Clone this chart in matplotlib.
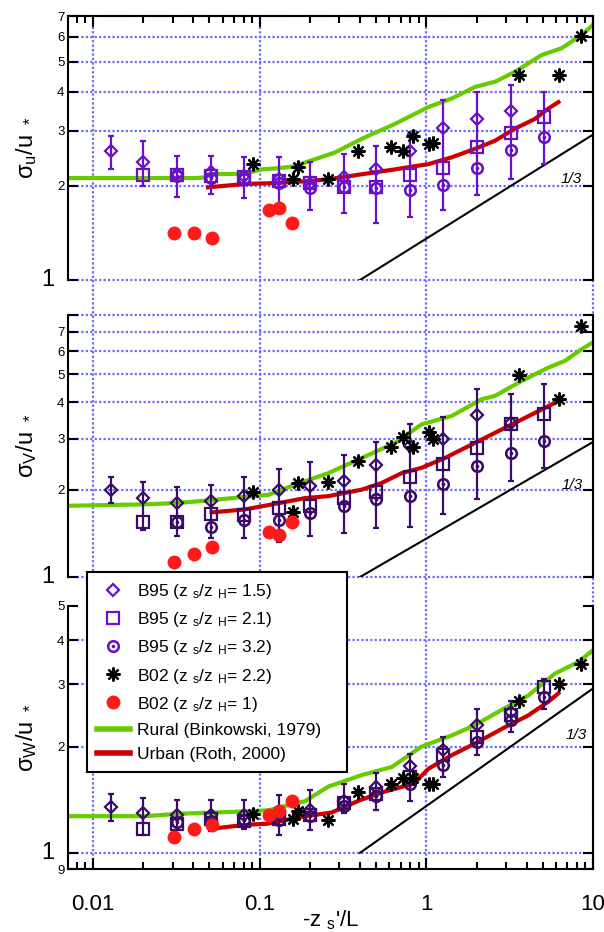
import numpy as np
import matplotlib.pyplot as plt
from matplotlib.lines import Line2D
from matplotlib.ticker import NullFormatter, NullLocator

plt.rcParams['font.family'] = ['Liberation Sans', 'DejaVu Sans']
plt.rcParams['mathtext.default'] = 'regular'

# x bins of the B95 points (same in the three panels)
b95_x = [0.0128, 0.020, 0.032, 0.051, 0.080, 0.13, 0.20, 0.32, 0.50, 0.80, 1.26, 2.0, 3.2, 5.1]
dia_x = b95_x[:13]
sq_x = b95_x[1:]
circ_x = b95_x[2:]

# B02 x positions
star_x = [0.0916, 0.159, 0.171, 0.258, 0.391, 0.614, 0.728, 0.836, 1.04, 1.10, 3.60, 6.25, 8.45]
dot_x = [0.0306, 0.0404, 0.0515, 0.114, 0.131, 0.156]

# slope 1/3 reference line
slope_x = [0.4, 10]
slope_y = [1.0, 2.92]

# ---- sigma_u / u*
u_dia = [2.58, 2.39, 2.18, 2.22, 2.15, 2.10, 2.03, 2.13, 2.26, 2.59, 3.06, 3.28, 3.47]
u_sq = [2.17, 2.17, 2.16, 2.14, 2.07, 2.04, 1.98, 1.98, 2.17, 2.29, 2.66, 2.96, 3.32]
u_circ = [2.16, 2.12, 2.10, 2.04, 1.97, 1.98, 1.97, 1.94, 2.01, 2.29, 2.61, 2.86]
u_err_lo = [2.26, 2.00, 1.84, 1.88, 1.83, 1.75, 1.68, 1.64, 1.52, 1.59, 1.68, 1.87, 2.10, 2.35]
u_err_hi = [2.90, 2.79, 2.50, 2.50, 2.47, 2.47, 2.38, 2.54, 2.69, 2.94, 3.76, 4.00, 4.20, 4.00]
u_star = [2.35, 2.10, 2.30, 2.11, 2.59, 2.67, 2.58, 2.90, 2.72, 2.74, 4.53, 4.53, 6.05]
u_dot = [1.415, 1.415, 1.36, 1.67, 1.70, 1.52]
u_rural_x = [0.0071, 0.0205, 0.041, 0.047, 0.050, 0.082, 0.103, 0.129, 0.16, 0.283, 0.409,
             0.648, 1.03, 1.42, 1.96, 2.58, 3.40, 4.92, 6.48, 8.55, 10]
u_rural_y = [2.12, 2.12, 2.12, 2.13, 2.18, 2.19, 2.26, 2.28, 2.31, 2.56, 2.83,
             3.16, 3.58, 3.81, 4.15, 4.31, 4.64, 5.25, 5.52, 6.09, 6.56]
u_urban_x = [0.049, 0.082, 0.113, 0.187, 0.258, 0.409, 0.648, 1.03, 1.42, 1.96, 2.58, 3.40, 4.49, 5.40, 6.2]
u_urban_y = [1.98, 2.03, 2.04, 2.07, 2.10, 2.18, 2.26, 2.35, 2.47, 2.63, 2.79, 3.05, 3.28, 3.54, 3.71]

# ---- sigma_v / u*
v_dia = [1.99, 1.87, 1.80, 1.83, 1.90, 1.99, 2.06, 2.15, 2.44, 2.82, 2.98, 3.61, 3.40]
v_sq = [1.55, 1.55, 1.65, 1.64, 1.73, 1.75, 1.87, 1.97, 2.22, 2.46, 2.79, 3.36, 3.66]
v_circ = [1.55, 1.49, 1.57, 1.57, 1.66, 1.75, 1.86, 1.90, 2.10, 2.41, 2.67, 2.94]
v_err_lo = [1.80, 1.45, 1.38, 1.36, 1.36, 1.32, 1.38, 1.42, 1.47, 1.49, 1.65, 1.86, 2.15, 2.38]
v_err_hi = [2.21, 2.12, 2.04, 2.08, 2.21, 2.35, 2.49, 2.64, 2.92, 3.36, 3.57, 4.46, 4.26, 4.62]
v_star = [1.96, 1.68, 2.11, 2.12, 2.52, 2.80, 3.03, 2.80, 3.16, 2.98, 4.97, 4.10, 7.31]
v_dot = [1.13, 1.20, 1.27, 1.43, 1.40, 1.55]
v_rural_x = [0.0071, 0.0205, 0.0325, 0.0515, 0.0817, 0.113, 0.163, 0.258, 0.409, 0.648, 0.938,
             1.42, 2.15, 2.58, 3.73, 5.40, 6.79, 8.55, 10]
v_rural_y = [1.76, 1.78, 1.80, 1.84, 1.89, 1.92, 2.08, 2.28, 2.57, 2.90, 3.36,
             3.59, 4.10, 4.21, 4.74, 5.27, 5.56, 6.10, 6.44]
v_urban_x = [0.0515, 0.0817, 0.113, 0.187, 0.258, 0.409, 0.54, 0.711, 0.938, 1.29, 1.96, 3.10, 4.49, 6.2]
v_urban_y = [1.67, 1.71, 1.77, 1.87, 1.90, 2.00, 2.11, 2.28, 2.38, 2.57, 2.90, 3.31, 3.68, 4.04]

# ---- sigma_w / u*
w_dia = [1.35, 1.30, 1.28, 1.28, 1.28, 1.28, 1.32, 1.40, 1.54, 1.76, 1.96, 2.30, 2.50]
w_sq = [1.17, 1.21, 1.25, 1.23, 1.25, 1.28, 1.38, 1.47, 1.64, 1.89, 2.13, 2.45, 2.95]
w_circ = [1.22, 1.23, 1.24, 1.24, 1.27, 1.36, 1.45, 1.57, 1.77, 2.06, 2.37, 2.76]
w_err_lo = [1.23, 1.12, 1.16, 1.15, 1.17, 1.12, 1.16, 1.30, 1.32, 1.40, 1.64, 1.89, 2.20, 2.56]
w_err_hi = [1.47, 1.43, 1.41, 1.41, 1.41, 1.46, 1.51, 1.57, 1.68, 1.91, 2.13, 2.56, 2.70, 3.11]
w_star = [1.29, 1.25, 1.31, 1.24, 1.49, 1.57, 1.63, 1.63, 1.57, 1.57, 2.69, 3.01, 3.42]
w_dot = [1.11, 1.17, 1.20, 1.28, 1.31, 1.40]
w_rural_x = [0.0071, 0.0205, 0.0325, 0.0515, 0.0817, 0.113, 0.163, 0.187, 0.258, 0.409, 0.62,
             0.938, 1.42, 1.96, 2.83, 4.09, 5.92, 8.17, 10]
w_rural_y = [1.27, 1.27, 1.29, 1.30, 1.31, 1.32, 1.38, 1.40, 1.54, 1.66, 1.75,
             2.00, 2.15, 2.30, 2.54, 2.79, 3.22, 3.47, 3.75]
w_urban_x = [0.0515, 0.0817, 0.113, 0.187, 0.27, 0.40, 0.56, 0.84, 1.03, 1.42, 1.96, 2.97, 4.09, 5.40, 6.2]
w_urban_y = [1.17, 1.20, 1.21, 1.27, 1.30, 1.41, 1.49, 1.57, 1.73, 1.89, 2.04, 2.27, 2.45, 2.68, 2.83]

legend_labels = ['B95 (z $_s$/z $_H$= 1.5)', 'B95 (z $_s$/z $_H$= 2.1)', 'B95 (z $_s$/z $_H$= 3.2)',
                 'B02 (z $_s$/z $_H$= 2.2)', 'B02 (z $_s$/z $_H$= 1)',
                 'Rural (Binkowski, 1979)', 'Urban (Roth, 2000)']

xlim = (0.00708, 10)
vgrid = [0.01, 0.1, 1, 10]

grid_col = '#6b6bff'
purple_bright = '#6a10c8'
purple_dark = '#3a0b68'
green = '#66cc00'
red_line = '#cc0000'
red_dot = '#ff1a1a'
star_marker = (8, 2, 0)
circ_marker = r'$\odot$'


def px_box(top, bottom):
    return [68 / 604, 1 - bottom / 932, 525 / 604, (bottom - top) / 932]


def draw_panel(ax, purple, rx, ry, ux, uy, dia, sq, circ, lo, hi, star, dot):
    ax.plot(rx, ry, color=green, lw=3, zorder=2)
    ax.plot(ux, uy, color=red_line, lw=3, zorder=2)
    ax.plot(slope_x, slope_y, color='black', lw=1.5, zorder=2)
    ax.vlines(b95_x, lo, hi, color=purple, lw=1.6, zorder=3)
    ax.plot(b95_x, lo, ls='none', marker='_', ms=4, mew=1.6, color=purple, zorder=3)
    ax.plot(b95_x, hi, ls='none', marker='_', ms=4, mew=1.6, color=purple, zorder=3)
    ax.plot(dia_x, dia, ls='none', marker='D', ms=6.5, mfc='none', mec=purple, mew=1.6, zorder=4)
    ax.plot(sq_x, sq, ls='none', marker='s', ms=8, mfc='none', mec=purple, mew=1.6, zorder=4)
    ax.plot(circ_x, circ, ls='none', marker=circ_marker, ms=8.5, color=purple, zorder=4)
    ax.plot(star_x, star, ls='none', marker=star_marker, ms=10, mew=1.6, color='black', zorder=5)
    ax.plot(dot_x, dot, ls='none', marker='o', ms=9, color=red_dot, mec=red_dot, zorder=5)


def setup_panel(ax, ylim, yticks, ylabels, hgrid, ylabel):
    ax.set_xscale('log')
    ax.set_yscale('log')
    ax.set_xlim(*xlim)
    ax.set_ylim(*ylim)
    ax.set_facecolor('none')
    ax.yaxis.set_minor_locator(NullLocator())
    ax.set_yticks(yticks, labels=ylabels)
    ax.yaxis.set_minor_formatter(NullFormatter())
    ax.tick_params(axis='y', which='major', direction='in', left=True, right=True,
                   length=7, width=1.5, labelsize=9.5, pad=2.5)
    for v in hgrid:
        ax.axhline(v, color=grid_col, lw=1.6, ls=(0, (1, 1)), zorder=1, clip_on=False)
    for s in ax.spines.values():
        s.set_linewidth(1.5)
    ax.text(-0.026, 1, '1', transform=ax.get_yaxis_transform(), ha='right', va='center', fontsize=17)
    ax.set_ylabel(ylabel, fontsize=17)
    ax.yaxis.set_label_coords(-0.056, 0.5)
    ax.set_xticks(vgrid, labels=['0.01', '0.1', '1', '10'])
    ax.xaxis.set_minor_formatter(NullFormatter())


fig = plt.figure(figsize=(6.04, 9.32), dpi=100)

# vertical dotted grid running through all three panels
bg = fig.add_axes(px_box(16, 869), zorder=-1)
bg.set_xscale('log')
bg.set_xlim(*xlim)
bg.axis('off')
for v in vgrid:
    bg.axvline(v, color=grid_col, lw=1.6, ls=(0, (1, 1)), clip_on=False)

ax_u = fig.add_axes(px_box(16, 280))
ax_v = fig.add_axes(px_box(315, 577))
ax_w = fig.add_axes(px_box(606, 869))

draw_panel(ax_u, purple_bright, u_rural_x, u_rural_y, u_urban_x, u_urban_y,
           u_dia, u_sq, u_circ, u_err_lo, u_err_hi, u_star, u_dot)
draw_panel(ax_v, purple_dark, v_rural_x, v_rural_y, v_urban_x, v_urban_y,
           v_dia, v_sq, v_circ, v_err_lo, v_err_hi, v_star, v_dot)
draw_panel(ax_w, purple_dark, w_rural_x, w_rural_y, w_urban_x, w_urban_y,
           w_dia, w_sq, w_circ, w_err_lo, w_err_hi, w_star, w_dot)

setup_panel(ax_u, (1, 7), [1, 2, 3, 4, 5, 6, 7], ['', '2', '3', '4', '5', '6', '7'],
            [1, 2, 3, 4, 5, 6, 7], 'σ$_u$/u $_*$')
setup_panel(ax_v, (1, 8), [1, 2, 3, 4, 5, 6, 7, 8], ['', '2', '3', '4', '5', '6', '7', ''],
            [1, 2, 3, 4, 5, 6, 7, 8], 'σ$_V$/u $_*$')
setup_panel(ax_w, (0.9, 5), [0.9, 1, 2, 3, 4, 5], ['9', '', '2', '3', '4', '5'],
            [1, 2, 3, 4], 'σ$_W$/u $_*$')

# x ticks: on top of the first panel, at the bottom of the last one
ax_u.spines['bottom'].set_visible(False)
ax_u.tick_params(axis='x', which='both', direction='in', top=True, bottom=False,
                 labelbottom=False, labeltop=False, width=1.5)
ax_u.tick_params(axis='x', which='major', length=8)
ax_u.tick_params(axis='x', which='minor', length=5)

ax_v.spines['top'].set_visible(False)
ax_v.spines['bottom'].set_visible(False)
ax_v.tick_params(axis='x', which='both', top=False, bottom=False, labelbottom=False)

ax_w.spines['top'].set_visible(False)
ax_w.tick_params(axis='x', which='both', direction='in', top=False, bottom=True,
                 labelbottom=True, width=1.5, labelsize=16, pad=18)
ax_w.tick_params(axis='x', which='major', length=8)
ax_w.tick_params(axis='x', which='minor', length=5)
ax_w.set_xlabel("-z $_s$'/L", fontsize=16, labelpad=-5)

ax_u.text(7.36, 2.10, '1/3', style='italic', fontsize=11, ha='center', va='center')
ax_v.text(7.55, 2.07, '1/3', style='italic', fontsize=11, ha='center', va='center')
ax_w.text(7.9, 2.15, '1/3', style='italic', fontsize=11, ha='center', va='center')

handles = [
    Line2D([], [], ls='none', marker='D', ms=6.5, mfc='none', mec=purple_bright, mew=1.6),
    Line2D([], [], ls='none', marker='s', ms=8, mfc='none', mec=purple_bright, mew=1.6),
    Line2D([], [], ls='none', marker=circ_marker, ms=8.5, color=purple_bright),
    Line2D([], [], ls='none', marker=star_marker, ms=10, mew=1.6, color='black'),
    Line2D([], [], ls='none', marker='o', ms=9, color=red_dot),
    Line2D([], [], color=green, lw=4),
    Line2D([], [], color=red_line, lw=4),
]
leg = fig.legend(handles, legend_labels, loc='upper left',
                 bbox_to_anchor=(87 / 604, 1 - 768 / 932, 260 / 604, 196 / 932), mode='expand',
                 fontsize=12.5, frameon=True, fancybox=False, edgecolor='black', framealpha=1,
                 borderaxespad=0, borderpad=0.6, handlelength=1.85, handletextpad=0.45,
                 labelspacing=0.52)
leg.get_frame().set_linewidth(1.5)

plt.savefig('out.png', dpi=100)
